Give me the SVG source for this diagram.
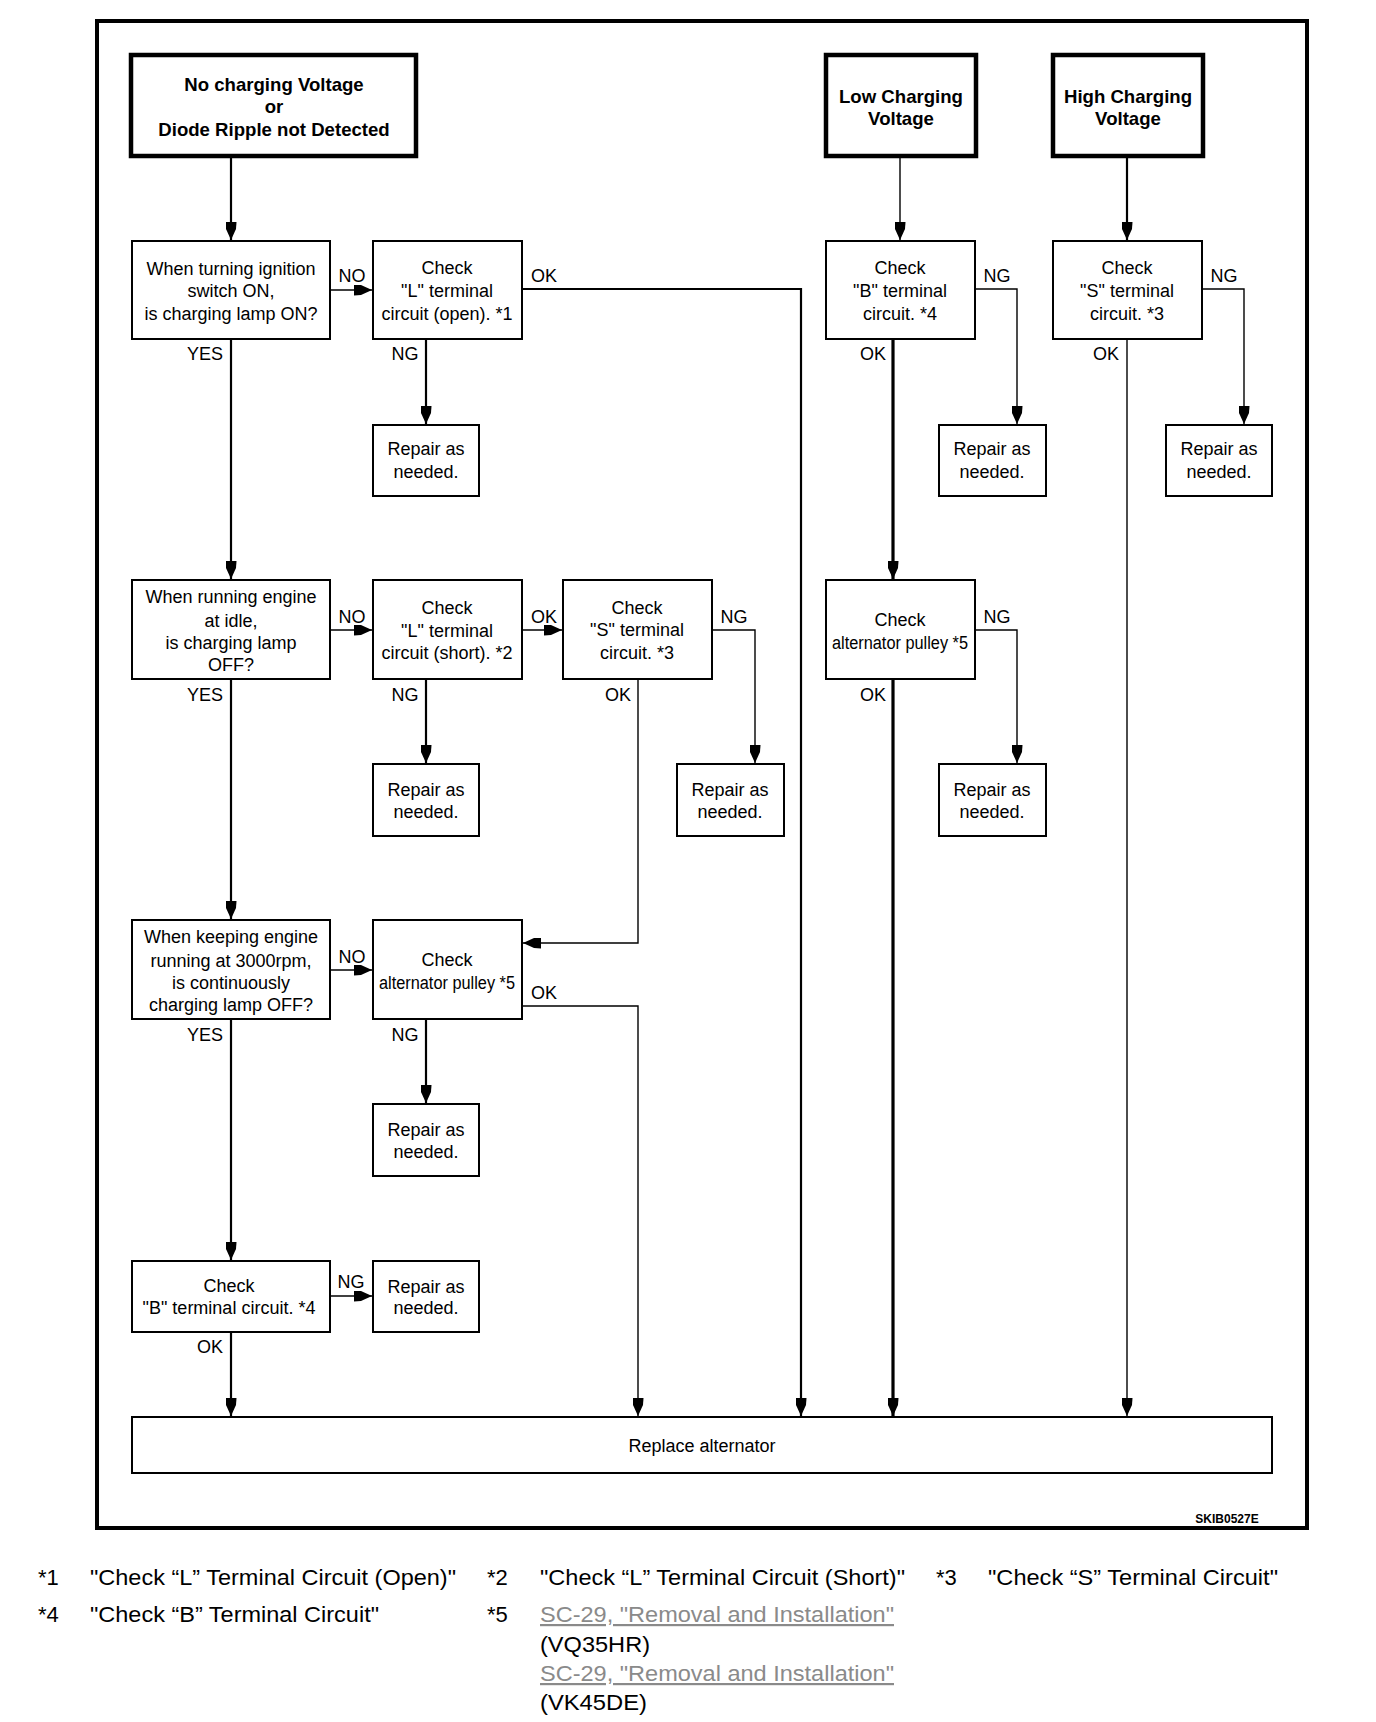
<svg xmlns="http://www.w3.org/2000/svg" width="1376" height="1722" viewBox="0 0 1376 1722">
<defs>
<marker id="ah" markerUnits="userSpaceOnUse" markerWidth="18" markerHeight="11" refX="18" refY="5.5" orient="auto">
<path d="M0,0 L7,0.5 L18,5.5 L7,10.5 L0,11 Z" fill="#000"/>
</marker>
</defs>
<style>
text{font-family:"Liberation Sans",Arial,sans-serif;font-size:18px;fill:#000;text-anchor:middle}
.b{font-weight:bold;font-size:18.6px}
.box{fill:#fff;stroke:#000;stroke-width:2}
.hbox{fill:#fff;stroke:#000;stroke-width:4.5}
.c{fill:none;stroke:#000}
.t1{stroke-width:1.4}
.t2{stroke-width:2.2}
.t3{stroke-width:3.2}
.fn{font-size:22px;text-anchor:start}
.lnk{fill:#8a8a8a;text-decoration:underline}
.sk{font-size:12px;font-weight:bold}
</style>
<rect x="97" y="21" width="1210" height="1507" fill="#fff" stroke="#000" stroke-width="4"/>

<g id="connectors">
<path class="c t2" d="M231,156 V240" marker-end="url(#ah)"/>
<path class="c t1" d="M330,290 H372" marker-end="url(#ah)"/>
<path class="c t2" d="M522,289 H801 V1416" marker-end="url(#ah)"/>
<path class="c t2" d="M426,340 V424" marker-end="url(#ah)"/>
<path class="c t2" d="M231,339 V579" marker-end="url(#ah)"/>
<path class="c t1" d="M900,156 V240" marker-end="url(#ah)"/>
<path class="c t1" d="M975,289 H1017 V424" marker-end="url(#ah)"/>
<path class="c t3" d="M893,340 V579" marker-end="url(#ah)"/>
<path class="c t2" d="M1127,156 V240" marker-end="url(#ah)"/>
<path class="c t1" d="M1202,289 H1244 V424" marker-end="url(#ah)"/>
<path class="c t1" d="M1127,340 V1416" marker-end="url(#ah)"/>
<path class="c t1" d="M330,630 H372" marker-end="url(#ah)"/>
<path class="c t1" d="M522,630 H562" marker-end="url(#ah)"/>
<path class="c t2" d="M426,679 V763" marker-end="url(#ah)"/>
<path class="c t1" d="M712,630 H755 V763" marker-end="url(#ah)"/>
<path class="c t1" d="M638,679 V943 H523" marker-end="url(#ah)"/>
<path class="c t2" d="M231,679 V919" marker-end="url(#ah)"/>
<path class="c t1" d="M975,630 H1017 V763" marker-end="url(#ah)"/>
<path class="c t3" d="M893,679 V1416" marker-end="url(#ah)"/>
<path class="c t1" d="M330,970 H372" marker-end="url(#ah)"/>
<path class="c t2" d="M426,1019 V1103" marker-end="url(#ah)"/>
<path class="c t1" d="M522,1006 H638 V1416" marker-end="url(#ah)"/>
<path class="c t2" d="M231,1019 V1260" marker-end="url(#ah)"/>
<path class="c t1" d="M330,1296 H372" marker-end="url(#ah)"/>
<path class="c t2" d="M231,1332 V1416" marker-end="url(#ah)"/>
</g>

<g id="labels">
<text x="352" y="282">NO</text>
<text x="544" y="282">OK</text>
<text x="205" y="360">YES</text>
<text x="405" y="360">NG</text>
<text x="997" y="282">NG</text>
<text x="873" y="360">OK</text>
<text x="1224" y="282">NG</text>
<text x="1106" y="360">OK</text>
<text x="352" y="623">NO</text>
<text x="544" y="623">OK</text>
<text x="734" y="623">NG</text>
<text x="618" y="701">OK</text>
<text x="205" y="701">YES</text>
<text x="405" y="701">NG</text>
<text x="997" y="623">NG</text>
<text x="873" y="701">OK</text>
<text x="352" y="963">NO</text>
<text x="544" y="999">OK</text>
<text x="205" y="1041">YES</text>
<text x="405" y="1041">NG</text>
<text x="351" y="1288">NG</text>
<text x="210" y="1353">OK</text>
</g>

<g id="n-start-none">
<rect class="hbox" x="131" y="55" width="285" height="101"/>
<text class="b" x="274" y="91">No charging Voltage</text>
<text class="b" x="274" y="113">or</text>
<text class="b" x="274" y="136">Diode Ripple not Detected</text>
</g>
<g id="n-start-low">
<rect class="hbox" x="826" y="55" width="150" height="101"/>
<text class="b" x="901" y="103">Low Charging</text>
<text class="b" x="901" y="125">Voltage</text>
</g>
<g id="n-start-high">
<rect class="hbox" x="1053" y="55" width="150" height="101"/>
<text class="b" x="1128" y="103">High Charging</text>
<text class="b" x="1128" y="125">Voltage</text>
</g>

<g id="n-q1">
<rect class="box" x="132" y="241" width="198" height="98"/>
<text x="231" y="275">When turning ignition</text>
<text x="231" y="297">switch ON,</text>
<text x="231" y="320">is charging lamp ON?</text>
</g>
<g id="n-check-l-open">
<rect class="box" x="373" y="241" width="149" height="98"/>
<text x="447" y="274">Check</text>
<text x="447" y="297">"L" terminal</text>
<text x="447" y="320">circuit (open). *1</text>
</g>
<g id="n-repair-1">
<rect class="box" x="373" y="425" width="106" height="71"/>
<text x="426" y="455">Repair as</text>
<text x="426" y="478">needed.</text>
</g>
<g id="n-check-b-1">
<rect class="box" x="826" y="241" width="149" height="98"/>
<text x="900" y="274">Check</text>
<text x="900" y="297">"B" terminal</text>
<text x="900" y="320">circuit. *4</text>
</g>
<g id="n-repair-2">
<rect class="box" x="939" y="425" width="107" height="71"/>
<text x="992" y="455">Repair as</text>
<text x="992" y="478">needed.</text>
</g>
<g id="n-check-s-1">
<rect class="box" x="1053" y="241" width="149" height="98"/>
<text x="1127" y="274">Check</text>
<text x="1127" y="297">"S" terminal</text>
<text x="1127" y="320">circuit. *3</text>
</g>
<g id="n-repair-3">
<rect class="box" x="1166" y="425" width="106" height="71"/>
<text x="1219" y="455">Repair as</text>
<text x="1219" y="478">needed.</text>
</g>

<g id="n-q2">
<rect class="box" x="132" y="580" width="198" height="99"/>
<text x="231" y="603">When running engine</text>
<text x="231" y="627">at idle,</text>
<text x="231" y="649">is charging lamp</text>
<text x="231" y="671">OFF?</text>
</g>
<g id="n-check-l-short">
<rect class="box" x="373" y="580" width="149" height="99"/>
<text x="447" y="614">Check</text>
<text x="447" y="637">"L" terminal</text>
<text x="447" y="659">circuit (short). *2</text>
</g>
<g id="n-repair-4">
<rect class="box" x="373" y="764" width="106" height="72"/>
<text x="426" y="796">Repair as</text>
<text x="426" y="818">needed.</text>
</g>
<g id="n-check-s-2">
<rect class="box" x="563" y="580" width="149" height="99"/>
<text x="637" y="614">Check</text>
<text x="637" y="636">"S" terminal</text>
<text x="637" y="659">circuit. *3</text>
</g>
<g id="n-repair-5">
<rect class="box" x="677" y="764" width="107" height="72"/>
<text x="730" y="796">Repair as</text>
<text x="730" y="818">needed.</text>
</g>
<g id="n-pulley-1">
<rect class="box" x="826" y="580" width="149" height="99"/>
<text x="900" y="626">Check</text>
<text x="900" y="649" textLength="136" lengthAdjust="spacingAndGlyphs">alternator pulley *5</text>
</g>
<g id="n-repair-6">
<rect class="box" x="939" y="764" width="107" height="72"/>
<text x="992" y="796">Repair as</text>
<text x="992" y="818">needed.</text>
</g>

<g id="n-q3">
<rect class="box" x="132" y="920" width="198" height="99"/>
<text x="231" y="943">When keeping engine</text>
<text x="231" y="967">running at 3000rpm,</text>
<text x="231" y="989">is continuously</text>
<text x="231" y="1011">charging lamp OFF?</text>
</g>
<g id="n-pulley-2">
<rect class="box" x="373" y="920" width="149" height="99"/>
<text x="447" y="966">Check</text>
<text x="447" y="989" textLength="136" lengthAdjust="spacingAndGlyphs">alternator pulley *5</text>
</g>
<g id="n-repair-7">
<rect class="box" x="373" y="1104" width="106" height="72"/>
<text x="426" y="1136">Repair as</text>
<text x="426" y="1158">needed.</text>
</g>

<g id="n-check-b-2">
<rect class="box" x="132" y="1261" width="198" height="71"/>
<text x="229" y="1292">Check</text>
<text x="229" y="1314">"B" terminal circuit. *4</text>
</g>
<g id="n-repair-8">
<rect class="box" x="373" y="1261" width="106" height="71"/>
<text x="426" y="1293">Repair as</text>
<text x="426" y="1314">needed.</text>
</g>

<g id="n-replace">
<rect class="box" x="132" y="1417" width="1140" height="56"/>
<text x="702" y="1452">Replace alternator</text>
</g>

<text class="sk" x="1227" y="1523">SKIB0527E</text>

<g id="footnotes">
<text class="fn" x="38" y="1585">*1</text>
<text class="fn" x="90" y="1585" textLength="366" lengthAdjust="spacingAndGlyphs">"Check “L” Terminal Circuit (Open)"</text>
<text class="fn" x="487" y="1585">*2</text>
<text class="fn" x="540" y="1585" textLength="365" lengthAdjust="spacingAndGlyphs">"Check “L” Terminal Circuit (Short)"</text>
<text class="fn" x="936" y="1585">*3</text>
<text class="fn" x="988" y="1585" textLength="290" lengthAdjust="spacingAndGlyphs">"Check “S” Terminal Circuit"</text>
<text class="fn" x="38" y="1622">*4</text>
<text class="fn" x="90" y="1622" textLength="289" lengthAdjust="spacingAndGlyphs">"Check “B” Terminal Circuit"</text>
<text class="fn" x="487" y="1622">*5</text>
<text class="fn lnk" x="540" y="1622" textLength="354" lengthAdjust="spacingAndGlyphs">SC-29, "Removal and Installation"</text>
<text class="fn" x="540" y="1652" textLength="110" lengthAdjust="spacingAndGlyphs">(VQ35HR)</text>
<text class="fn lnk" x="540" y="1681" textLength="354" lengthAdjust="spacingAndGlyphs">SC-29, "Removal and Installation"</text>
<text class="fn" x="540" y="1710" textLength="107" lengthAdjust="spacingAndGlyphs">(VK45DE)</text>
</g>
</svg>
